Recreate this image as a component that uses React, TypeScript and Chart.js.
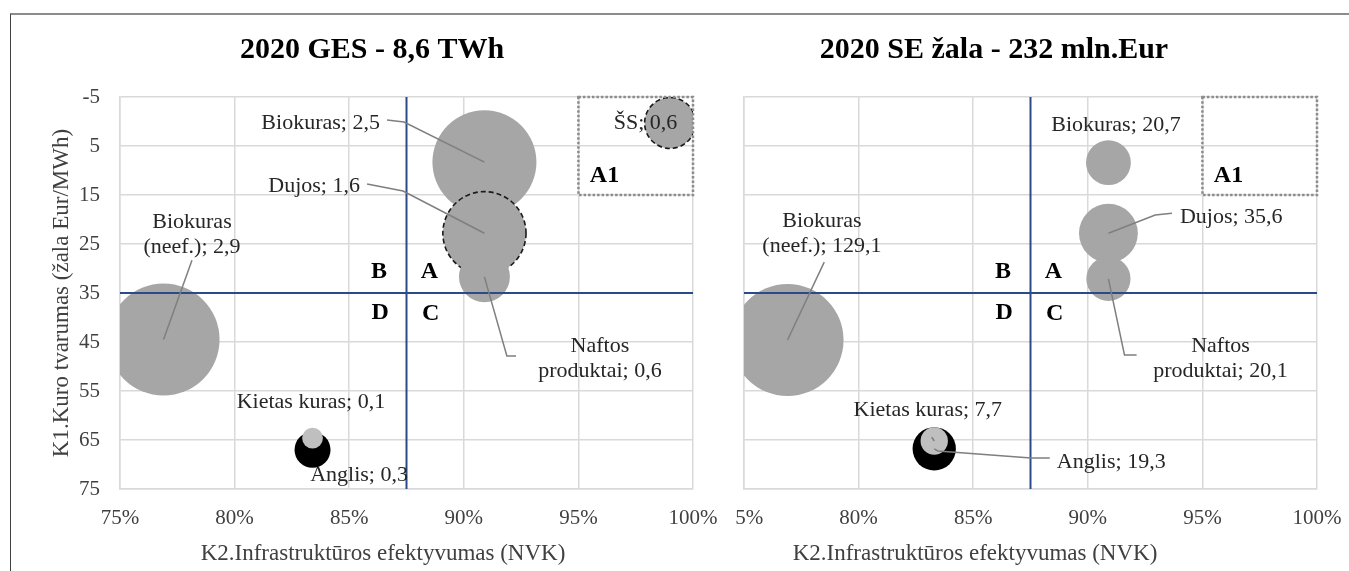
import React, { useEffect, useRef } from "react";
import { Chart, registerables } from "chart.js";

Chart.register(...registerables);

const FONT = '"Liberation Serif", "Times New Roman", Times, serif';

// ---------- shared axes ----------
const xTicks = [75, 80, 85, 90, 95, 100];
const yTicks = [-5, 5, 15, 25, 35, 45, 55, 65, 75];
const xThreshold = 87.5;
const yThreshold = 35;
const a1X = [95, 100];
const a1Y = [-5, 15];
const quadrantLetters = ["A", "B", "C", "D"];
const xAxisTitle = "K2.Infrastruktūros efektyvumas (NVK)";
const yAxisTitle = "K1.Kuro tvarumas (žala Eur/MWh)";

// ---------- left chart: 2020 GES - 8,6 TWh ----------
const gesTitle = "2020 GES - 8,6 TWh";
const gesCategories = ["Biokuras (neef.)", "Biokuras", "Dujos", "Naftos produktai", "ŠS", "Anglis", "Kietas kuras"];
const gesK2 = [76.9, 90.9, 90.9, 90.9, 99.0, 83.4, 83.4];
const gesK1 = [44.5, 8.3, 22.8, 31.7, 0.3, 67.0, 64.6];
const gesValues = [2.9, 2.5, 1.6, 0.6, 0.6, 0.3, 0.1];

// ---------- right chart: 2020 SE žala - 232 mln.Eur ----------
const seTitle = "2020 SE žala - 232 mln.Eur";
const seCategories = ["Biokuras (neef.)", "Biokuras", "Dujos", "Naftos produktai", "Anglis", "Kietas kuras"];
const seK2 = [76.9, 90.9, 90.9, 90.9, 83.3, 83.3];
const seK1 = [44.6, 8.4, 22.8, 32.1, 66.8, 65.2];
const seValues = [129.1, 20.7, 35.6, 20.1, 19.3, 7.7];

// ---------- styles ----------
const GREY = "#A6A6A6";
const FILL: Record<string, string> = { "Anglis": "#000000", "Kietas kuras": "#BFBFBF" };
const BLUE = "#2B4A8A";
const GRID = "#D9D9D9";
const MAX_R = 56;
const CANVAS_H = 556;
const PLOT_LEFT = 109;
const PLOT_TOP = 82;
const PLOT_BOTTOM = 474;
const PAD_LEFT = 37;

type Pt = [number, number];
interface Note { cat: string; x: number; y: number; align: CanvasTextAlign; wrap?: boolean; leader?: Pt[] }
interface Spec {
  title: string; titleX: number; xTitleX: number; width: number; padRight: number;
  cats: string[]; k2: number[]; k1: number[]; vals: number[];
  dashed: string[]; notes: Note[]; showY: boolean;
}

// label placement (data coordinates)
const gesNotes: Note[] = [
  { cat: "Biokuras (neef.)", x: 78.14, y: 23.06, align: "center", wrap: true, leader: [[78.14, 28.3]] },
  { cat: "Biokuras", x: 86.34, y: 0.31, align: "right", leader: [[86.65, -0.3], [87.39, 0.1]] },
  { cat: "Dujos", x: 85.47, y: 13.16, align: "right", leader: [[85.78, 12.76], [87.35, 14.18]] },
  { cat: "Naftos produktai", x: 95.94, y: 48.37, align: "center", wrap: true, leader: [[92.28, 47.86], [91.88, 47.86]] },
  { cat: "ŠS", x: 97.93, y: 0.31, align: "center" },
  { cat: "Anglis", x: 85.43, y: 72.14, align: "center" },
  { cat: "Kietas kuras", x: 83.33, y: 57.24, align: "center" },
];
const seNotes: Note[] = [
  { cat: "Biokuras (neef.)", x: 78.4, y: 22.9, align: "center", wrap: true, leader: [[78.5, 28.7]] },
  { cat: "Biokuras", x: 91.23, y: 0.7, align: "center" },
  { cat: "Dujos", x: 94.02, y: 19.5, align: "left", leader: [[93.67, 18.73], [92.94, 19.08]] },
  { cat: "Naftos produktai", x: 95.79, y: 48.47, align: "center", wrap: true, leader: [[92.13, 47.65], [91.6, 47.65]] },
  { cat: "Anglis", x: 88.65, y: 69.5, align: "left", leader: [[88.34, 68.67], [87.52, 68.67], [83.46, 67.24]] },
  { cat: "Kietas kuras", x: 83.02, y: 58.9, align: "center", leader: [[83.19, 64.4]] },
];
const letterPos: Record<string, Pt> = { A: [88.5, 30.7], B: [86.3, 30.7], C: [88.55, 39.2], D: [86.35, 39.1] };
const a1LabelPos: Pt = [95.5, 11];

const fmt = (v: number) => String(v).replace(".", ",");

function makeConfig(s: Spec): any {
  const maxV = Math.max(...s.vals);
  const n = s.cats.length;
  const bubbles = s.cats.map((c, i) => {
    const dashed = s.dashed.includes(c);
    return {
      type: "bubble",
      label: c,
      data: [{ x: s.k2[i], y: s.k1[i], r: MAX_R * Math.sqrt(s.vals[i] / maxV) }],
      backgroundColor: FILL[c] ?? GREY,
      borderColor: dashed ? "#1A1A1A" : "rgba(0,0,0,0)",
      borderWidth: dashed ? 1.6 : 0,
      dashed,
      order: n - i + 1,
    };
  });
  const lineStyle = { type: "line", borderColor: BLUE, borderWidth: 2, pointRadius: 0, fill: false, order: 0 };
  const lines = [
    { ...lineStyle, label: "v", data: [{ x: xThreshold, y: yTicks[0] }, { x: xThreshold, y: yTicks[yTicks.length - 1] }] },
    { ...lineStyle, label: "h", data: [{ x: xTicks[0], y: yThreshold }, { x: xTicks[xTicks.length - 1], y: yThreshold }] },
  ];

  const dashPlugin = {
    id: "dashBorders",
    beforeDatasetDraw(chart: any, args: any) {
      const ds = chart.data.datasets[args.index];
      chart.ctx.setLineDash(ds.dashed ? [5, 3] : []);
    },
    afterDatasetDraw(chart: any) {
      chart.ctx.setLineDash([]);
    },
  };

  const notesPlugin = {
    id: "notes",
    afterDatasetsDraw(chart: any) {
      const { ctx } = chart;
      const x = chart.scales.x;
      const y = chart.scales.y;
      const px = (v: number) => x.getPixelForValue(v);
      const py = (v: number) => y.getPixelForValue(v);
      ctx.save();
      // A1 dotted box
      ctx.strokeStyle = "#8C8C8C";
      ctx.lineWidth = 2.5;
      ctx.setLineDash([2.5, 2]);
      ctx.strokeRect(px(a1X[0]), py(a1Y[0]), px(a1X[1]) - px(a1X[0]), py(a1Y[1]) - py(a1Y[0]));
      ctx.setLineDash([]);
      // leader lines
      ctx.strokeStyle = "#7F7F7F";
      ctx.lineWidth = 1.5;
      s.notes.forEach((nt) => {
        if (!nt.leader) return;
        const i = s.cats.indexOf(nt.cat);
        const pts: Pt[] = [...nt.leader, [s.k2[i], s.k1[i]]];
        ctx.beginPath();
        pts.forEach((p, k) => (k === 0 ? ctx.moveTo(px(p[0]), py(p[1])) : ctx.lineTo(px(p[0]), py(p[1]))));
        ctx.stroke();
      });
      // data labels
      ctx.fillStyle = "#262626";
      ctx.font = `22px ${FONT}`;
      ctx.textBaseline = "middle";
      s.notes.forEach((nt) => {
        const i = s.cats.indexOf(nt.cat);
        const text = `${nt.cat}; ${fmt(s.vals[i])}`;
        let parts = [text];
        if (nt.wrap) {
          const sp = text.indexOf(" ");
          parts = [text.slice(0, sp), text.slice(sp + 1)];
        }
        ctx.textAlign = nt.align;
        const lh = 25;
        const y0 = py(nt.y) - ((parts.length - 1) * lh) / 2;
        parts.forEach((p, k) => ctx.fillText(p, px(nt.x), y0 + k * lh));
      });
      // quadrant letters
      ctx.fillStyle = "#000";
      ctx.font = `bold 24px ${FONT}`;
      ctx.textAlign = "center";
      quadrantLetters.forEach((L) => ctx.fillText(L, px(letterPos[L][0]), py(letterPos[L][1])));
      ctx.textAlign = "left";
      ctx.fillText("A1", px(a1LabelPos[0]), py(a1LabelPos[1]));
      ctx.restore();
    },
    afterDraw(chart: any) {
      const { ctx } = chart;
      ctx.save();
      ctx.textAlign = "center";
      ctx.textBaseline = "middle";
      // chart title
      ctx.font = `bold 30px ${FONT}`;
      ctx.fillStyle = "#000";
      ctx.fillText(s.title, s.titleX, 35);
      // x axis title
      ctx.font = `23px ${FONT}`;
      ctx.fillStyle = "#404040";
      ctx.fillText(xAxisTitle, s.xTitleX, 539);
      ctx.restore();
    },
  };

  return {
    type: "bubble",
    data: { datasets: [...lines, ...bubbles] },
    plugins: [dashPlugin, notesPlugin],
    options: {
      responsive: false,
      animation: false,
      events: [],
      layout: { autoPadding: false, padding: { left: PAD_LEFT, right: s.padRight, top: PLOT_TOP, bottom: 0 } },
      plugins: {
        legend: { display: false },
        tooltip: { enabled: false },
        title: { display: false },
      },
      scales: {
        x: {
          type: "linear",
          min: xTicks[0],
          max: xTicks[xTicks.length - 1],
          afterBuildTicks: (sc: any) => { sc.ticks = xTicks.map((v) => ({ value: v })); },
          afterFit: (sc: any) => {
            sc.height = CANVAS_H - PLOT_BOTTOM;
            sc.paddingLeft = 0;
            sc.paddingRight = 0;
          },
          grid: { color: GRID, lineWidth: 1.5, drawTicks: false },
          border: { color: GRID, width: 1.5 },
          ticks: {
            padding: 16.4,
            color: "#404040",
            font: { family: FONT, size: 21 },
            callback: (v: any) => `${v}%`,
            maxRotation: 0,
            autoSkip: false,
          },
          title: { display: false },
        },
        y: {
          type: "linear",
          reverse: true,
          min: yTicks[0],
          max: yTicks[yTicks.length - 1],
          afterBuildTicks: (sc: any) => { sc.ticks = yTicks.map((v) => ({ value: v })); },
          afterFit: (sc: any) => {
            sc.width = PLOT_LEFT - PAD_LEFT;
            sc.paddingTop = 0;
            sc.paddingBottom = 0;
          },
          grid: { color: GRID, lineWidth: 1.5, drawTicks: false },
          border: { color: GRID, width: 1.5 },
          ticks: {
            display: s.showY,
            padding: 20,
            color: "#404040",
            font: { family: FONT, size: 21 },
            autoSkip: false,
          },
          title: {
            display: s.showY,
            text: yAxisTitle,
            color: "#404040",
            font: { family: FONT, size: 23 },
            padding: { top: 0, bottom: 0 },
          },
        },
      },
    },
  };
}

function Panel({ spec, style }: { spec: Spec; style: React.CSSProperties }) {
  const ref = useRef<HTMLCanvasElement>(null);
  useEffect(() => {
    const chart = new Chart(ref.current as HTMLCanvasElement, makeConfig(spec));
    return () => chart.destroy();
  }, []);
  return (
    <div style={{ position: "absolute", width: spec.width, height: CANVAS_H, ...style }}>
      <canvas ref={ref} width={spec.width} height={CANVAS_H} style={{ display: "block", width: spec.width, height: CANVAS_H }} />
    </div>
  );
}

const leftSpec: Spec = {
  title: gesTitle, titleX: 361, xTitleX: 372, width: 724, padRight: 42,
  cats: gesCategories, k2: gesK2, k1: gesK1, vals: gesValues,
  dashed: ["Dujos", "ŠS"], notes: gesNotes, showY: true,
};
const rightSpec: Spec = {
  title: seTitle, titleX: 359, xTitleX: 340, width: 714, padRight: 32,
  cats: seCategories, k2: seK2, k1: seK1, vals: seValues,
  dashed: [], notes: seNotes, showY: false,
};

export default function App() {
  return (
    <div style={{ position: "absolute", left: 0, top: 0, width: 1349, height: 571, overflow: "hidden", background: "#fff" }}>
      <Panel spec={rightSpec} style={{ left: 744 - PLOT_LEFT, top: 15, zIndex: 1 }} />
      <Panel spec={leftSpec} style={{ left: 11, top: 15, background: "#fff", zIndex: 2 }} />
      <div style={{ position: "absolute", left: 10, top: 13, width: 1339, height: 558, borderTop: "2px solid #8C8C8C", borderLeft: "1.5px solid #404040", zIndex: 3, pointerEvents: "none", boxSizing: "border-box" }} />
    </div>
  );
}
